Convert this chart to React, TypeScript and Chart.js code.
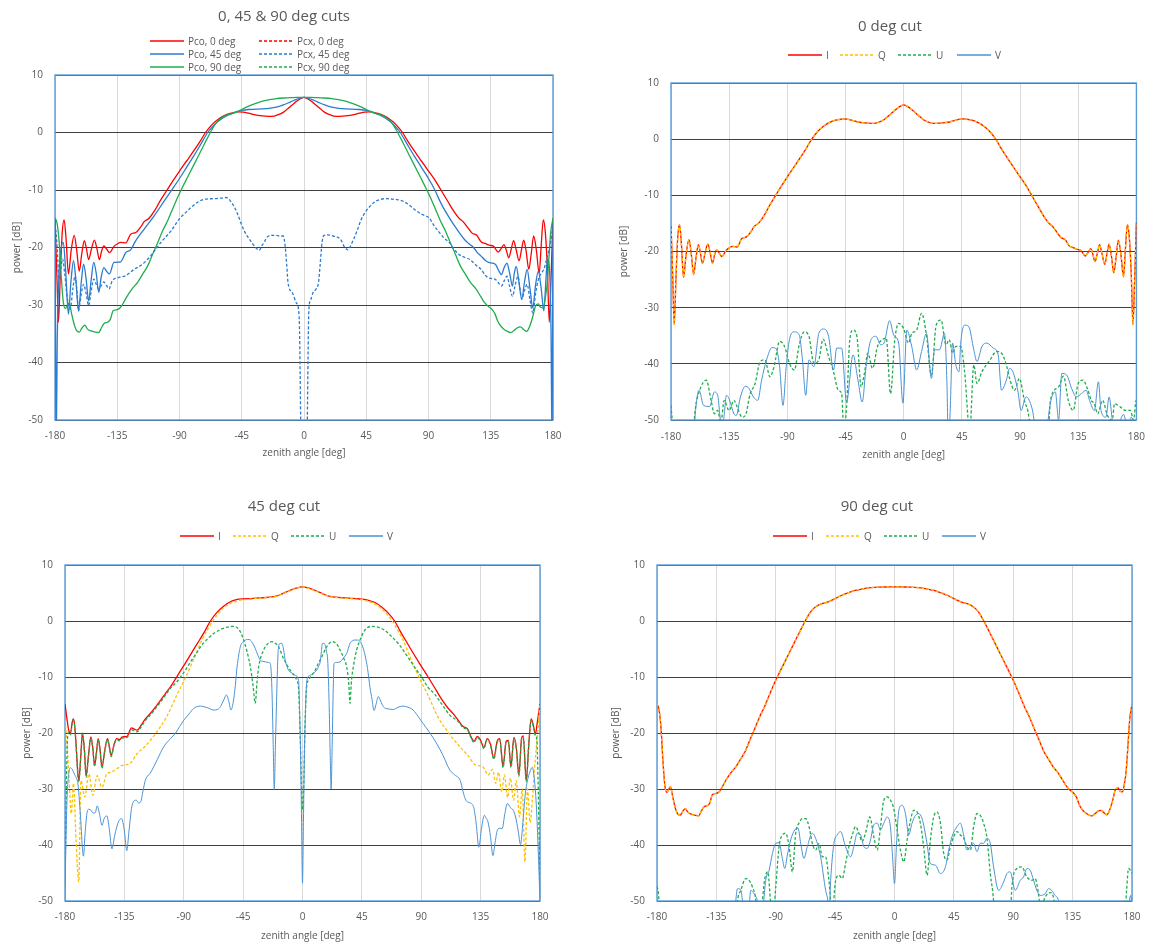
import { useEffect, useRef } from 'react';
import { Chart, registerables } from 'chart.js';

Chart.register(...registerables);
Chart.defaults.font.family = "'Open Sans', sans-serif";

type Pt = [number, number];

// ---------- Tick labels ----------
const angleTicks = [-180, -135, -90, -45, 0, 45, 90, 135, 180];
const powerTicks = [10, 0, -10, -20, -30, -40, -50];

// ---------- Chart 1: 0, 45 & 90 deg cuts ----------
const pco0: Pt[] = [
  [-180, -15.0], [-179.3, -20], [-178.5, -26], [-177.5, -33], [-176.2, -25], [-174.8, -17.5], [-173.4, -15.2],
  [-172, -18.5], [-170.3, -24.6], [-168.3, -20.5], [-166.1, -17.9], [-164.3, -20.5], [-162.5, -24.1], [-160.6, -21],
  [-158.8, -18.8], [-157.2, -20.3], [-155.7, -22.1], [-153.6, -20.2], [-151.5, -18.7], [-149.7, -20.2], [-147.9, -22.1],
  [-146.3, -20.6], [-144.7, -19.7], [-142.6, -20.3], [-140.6, -20.9], [-137.4, -19.8], [-134.5, -19.3], [-132.6, -19.1],
  [-128.9, -19.2], [-125.3, -17.7], [-121.6, -17.4], [-118, -16.4], [-115.5, -15.5], [-112, -14.9], [-108, -13.6],
  [-104, -11.9], [-99, -10], [-95, -8.5], [-90, -6.7], [-85, -5], [-80, -3.3], [-75, -1.5], [-71.2, 0], [-66, 1.5],
  [-62, 2.3], [-58, 2.9], [-54, 3.3], [-50, 3.5], [-47, 3.6], [-44, 3.55], [-40, 3.35], [-36, 3.1], [-32, 2.95],
  [-28, 2.85], [-23, 2.8], [-19, 3.05], [-15, 3.5], [-11, 4.3], [-7, 5.1], [-3.5, 5.75], [0, 6.1],
  [3.5, 5.75], [7, 5.1], [11, 4.3], [15, 3.5], [19, 3.05], [23, 2.8], [28, 2.85], [32, 2.95], [36, 3.1], [40, 3.35],
  [44, 3.55], [47, 3.6], [50, 3.5], [54, 3.3], [58, 2.9], [62, 2.3], [66, 1.5], [71.2, 0], [75, -1.5], [80, -3.3],
  [85, -5], [90, -6.7], [95, -8.4], [99, -10], [104, -12], [108, -13.6], [112, -14.9], [115, -15.5], [118, -16.4],
  [121.5, -17.5], [125, -17.9], [128, -19], [131, -19.3], [134, -19.6], [137, -19.8], [140.5, -20.8], [142.5, -20.2],
  [144.5, -19.5], [146.3, -20.5], [148, -21.8], [149.8, -20.3], [151.5, -18.8], [153.3, -20.3], [155.5, -22.3],
  [157.3, -20.3], [158.8, -18.7], [160.5, -20.5], [162.5, -23.8], [164.3, -21], [166, -18], [168, -20.5], [170, -24.5],
  [171.5, -19.5], [173, -15.2], [174.5, -17.5], [176, -24], [177.3, -33], [178.5, -26], [179.3, -20], [180, -14.9],
];

const pco45: Pt[] = [
  [-180, -15.5], [-179.6, -35], [-179.2, -55], [-178.3, -35], [-177, -24], [-175.5, -20], [-174, -19.1], [-172.3, -24],
  [-170.3, -31.6], [-168.5, -26], [-166.6, -22.3], [-164.8, -26], [-163, -31], [-161, -26], [-159.3, -22.9],
  [-157.5, -25.5], [-155.7, -29.3], [-153.8, -25.5], [-152, -22.6], [-150.2, -24.5], [-148.4, -27.8], [-146.5, -25],
  [-144.7, -23.5], [-142.5, -24.2], [-140.6, -24.6], [-137.4, -22.6], [-132.6, -22.5], [-128.9, -20.9], [-125.3, -20.4],
  [-121.6, -18.8], [-115.5, -16.8], [-108.3, -14.5], [-101, -11.9], [-95.6, -10], [-90, -8], [-85, -6.1], [-80, -4.2],
  [-75, -2.2], [-69.6, 0], [-65, 1.3], [-60, 2.3], [-55, 3.0], [-50, 3.5], [-45, 3.85], [-40, 4.0], [-35, 4.05],
  [-30, 4.1], [-25, 4.2], [-20, 4.4], [-15, 4.8], [-10, 5.3], [-5, 5.8], [0, 6.1],
  [5, 5.8], [10, 5.3], [15, 4.8], [20, 4.4], [25, 4.2], [30, 4.1], [35, 4.05], [40, 4.0], [45, 3.85], [50, 3.5],
  [55, 3.0], [60, 2.3], [65, 1.3], [69.6, 0], [75, -2.2], [80, -4.2], [85, -6.1], [90, -8], [94.6, -10], [98, -11.8],
  [101, -13.2], [105, -14.8], [109, -16.3], [112.5, -17.5], [116, -18.6], [119, -19.3], [122.6, -20], [125, -20.8],
  [128, -21.5], [131, -22.2], [133.5, -22.6], [136, -22.7], [138.6, -23], [140.7, -24], [142.7, -24.7], [144.7, -23.5],
  [146.7, -22.7], [148.7, -24.5], [150.7, -26.7], [152, -24.5], [153.4, -23.3], [155.4, -26], [157.4, -29],
  [159.4, -26], [161.3, -23.8], [163.3, -27], [165.4, -30.5], [167.4, -26.5], [169.4, -24.1], [171.4, -27],
  [173.4, -31], [174.8, -26], [176, -22], [177.5, -24], [178.6, -35], [179.3, -55], [180, -15.5],
];

const pco90: Pt[] = [
  [-180, -14.8], [-178.5, -15.8], [-177, -19], [-175.5, -25], [-174, -29.5], [-172.5, -30.6], [-171, -30],
  [-169.8, -29.6], [-168, -31.5], [-166, -33.5], [-164.5, -34.4], [-162.5, -34.7], [-160.5, -34], [-158.5, -33.5],
  [-156.5, -34.2], [-154, -34.5], [-151, -34.7], [-148.5, -34.8], [-146.5, -34], [-144.5, -33.2], [-142, -33],
  [-140, -32.5], [-138, -31], [-135, -30.8], [-132.6, -30.4], [-130, -29.4], [-127.7, -28.4], [-124, -27.1],
  [-120.4, -26.1], [-116.5, -24.6], [-113, -23.2], [-109.5, -21.2], [-106, -19.3], [-102, -17], [-98.5, -15.3],
  [-95, -13.3], [-91.2, -11.2], [-88, -9.6], [-84, -7.7], [-80, -5.8], [-76, -3.9], [-72, -2], [-67.7, 0], [-64, 1.5],
  [-61, 2.3], [-58, 2.8], [-55, 3.1], [-52, 3.3], [-49, 3.55], [-45, 4.0], [-40, 4.6], [-35, 5.05], [-30, 5.45],
  [-25, 5.7], [-20, 5.9], [-15, 6.0], [-10, 6.05], [-5, 6.1], [0, 6.1],
  [5, 6.1], [10, 6.05], [15, 6.0], [20, 5.9], [25, 5.7], [30, 5.45], [35, 5.05], [40, 4.6], [45, 4.0], [49, 3.55],
  [52, 3.3], [55, 3.1], [58, 2.8], [61, 2.3], [64, 1.5], [67.7, 0], [72, -2], [76, -3.9], [80, -5.8], [84, -7.7],
  [88, -9.6], [91.2, -11.2], [95, -13.3], [98.5, -15.3], [102, -17], [106, -19.3], [109.5, -21.2], [113, -23.2],
  [116.5, -24.6], [120.4, -26.1], [124, -27.1], [127.7, -28.5], [130, -29.4], [133, -30.2], [136, -30.8], [138, -31.5],
  [140, -32.8], [142, -33.6], [144.5, -34.2], [147, -34.6], [149.5, -34.8], [152, -34.4], [154, -34], [156.5, -33.8],
  [158.5, -34.2], [161, -34.6], [163, -33.8], [165.4, -32], [167.3, -30.2], [169.4, -29.8], [171, -30.4],
  [172.8, -30.5], [174.3, -29], [175.6, -26.7], [177, -22], [178.3, -17.5], [180, -14.9],
];

const pcx0: Pt[] = [[-180, -62], [-90, -60], [0, -65], [90, -60], [180, -62]];

const pcx45: Pt[] = [
  [-180, -16], [-179, -18], [-178, -22], [-177.3, -25.5], [-176, -24], [-174.5, -22], [-173, -24.5], [-171, -29],
  [-169, -30.7], [-167, -27], [-165.4, -24.9], [-164, -28], [-163, -31], [-161.3, -28.5], [-159.3, -26.4],
  [-157.5, -28], [-155.7, -30.1], [-153.8, -27.5], [-152, -25.5], [-150, -26.5], [-148.4, -27.2], [-146.5, -26.6],
  [-144.7, -26], [-142.8, -26.6], [-141, -27.2], [-138.6, -25.8], [-133.8, -25.2], [-128.9, -24.9], [-122.8, -23.8],
  [-116.7, -22.9], [-110.7, -21.4], [-103.4, -19.1], [-96.1, -17.1], [-90, -15], [-85, -13.8], [-81.5, -13],
  [-76, -12], [-71.7, -11.6], [-65, -11.5], [-60, -11.4], [-56.3, -11.3], [-52, -12.3], [-48.3, -14], [-45.5, -15.8],
  [-43, -17.2], [-40, -18.4], [-37.6, -19.2], [-35, -20], [-32.3, -20.5], [-30.5, -19.7], [-29, -19.2], [-27.5, -18.5],
  [-25.6, -18], [-23, -17.9], [-20.3, -17.9], [-17.5, -18], [-15, -18], [-13.6, -19.8], [-12.5, -23], [-11.5, -26.2],
  [-8.3, -27.9], [-5.6, -29.6], [-3.5, -32], [-2.9, -39.5], [-2.4, -50], [-1.5, -65], [0, -70],
  [1.5, -65], [2.4, -50], [2.9, -39.5], [3.5, -31], [5, -29], [6.4, -27.9], [8.5, -27.3], [10.4, -26.2], [11.5, -23.5],
  [12.5, -20.5], [13, -19.2], [14.4, -17.9], [17, -17.8], [21, -18], [25, -18.3], [27, -18.8], [29, -19.8],
  [31.8, -20.4], [33.5, -19.8], [35.8, -18.6], [38.5, -17], [41.2, -15.2], [44.5, -13.8], [47.8, -12.8], [51.5, -12],
  [55.8, -11.6], [60, -11.5], [63.9, -11.6], [68, -11.7], [72, -12], [76, -12.6], [79.9, -13.4], [85, -14.2],
  [90.6, -14.9], [94, -16.2], [97.2, -17.2], [101, -18.3], [105.3, -19.2], [108.5, -20.3], [112, -21.2], [116, -21.7],
  [120, -22.1], [124, -23], [128, -23.8], [131, -24.8], [133.3, -25.3], [136, -25.4], [138.6, -25.6], [140.7, -26.2],
  [142.7, -26.7], [144.7, -25.8], [146.7, -25], [148.7, -26.8], [150.7, -28.5], [152.7, -26.5], [154.7, -25],
  [156, -27], [157.4, -29], [159.4, -27.5], [161.3, -26.4], [163.3, -29], [165.4, -31.4], [167.4, -28], [169.4, -25.6],
  [171.4, -24.5], [173.4, -23.8], [175.5, -22], [177.5, -20], [179, -18], [180, -16],
];

const pcx90: Pt[] = [[-180, -63], [-90, -61], [0, -66], [90, -61], [180, -63]];

// ---------- Chart 2: 0 deg cut (I and Q equal Pco at 0 deg) ----------
const u0: Pt[] = [
  [-180, -47.4], [-178.5, -52], [-177, -60], [-164, -60], [-162.5, -52], [-161.6, -48.9], [-157.8, -44.7],
  [-152.7, -42.9], [-149, -46.5], [-146.4, -48.9], [-143.9, -48.3], [-141.4, -50.5], [-138.9, -46.5], [-135.1, -48.3],
  [-131.3, -46.5], [-128.8, -47.7], [-125, -49.5], [-122.5, -49.2], [-118.7, -45.3], [-114.9, -43.5], [-111.1, -39.6],
  [-107.3, -39.3], [-103.5, -42.3], [-100.3, -40.5], [-96, -36], [-92.2, -36.9], [-88.4, -39.9], [-84.6, -41.1],
  [-80.8, -36.6], [-77, -34.3], [-73.3, -35.1], [-69.5, -39.9], [-65.7, -39.3], [-62.4, -35.6], [-58.1, -38.7],
  [-54.3, -41.4], [-50.6, -44.7], [-48, -45.3], [-46.3, -52], [-44.2, -47.7], [-41.7, -35.7], [-39.2, -34],
  [-36.2, -35.1], [-32.9, -44.1], [-30.4, -41.7], [-27.8, -38.1], [-24.1, -40.8], [-20.3, -36.9], [-16.5, -35.7],
  [-13.5, -35.4], [-10.2, -45.3], [-6.9, -35.7], [-3.9, -32.8], [-0.1, -33.7], [3.7, -36.3], [6.2, -34.6], [10, -34],
  [13.8, -31], [17.6, -34.9], [21.4, -42], [25.1, -33.1], [28.9, -32.2], [32.7, -36.6], [35.2, -35.7], [37.8, -38.1],
  [40.3, -36.9], [44.1, -36.9], [47.1, -41.4], [51.1, -52], [54.2, -40.2], [56.7, -43.5], [60.5, -41.4],
  [66.8, -39.3], [71.8, -37.8], [75.6, -38.1], [79.4, -40.2], [81.9, -42.6], [85.7, -44.7], [89.5, -42.6],
  [93.3, -46.5], [97.1, -50], [99, -56], [111, -56], [113.5, -46.5], [119.8, -44.1], [123.6, -42.2], [127.3, -46.5],
  [131.1, -48.3], [134.9, -43.5], [138.7, -42.9], [142.5, -44.7], [145, -46.5], [147.5, -47.1], [150, -48.9],
  [153.8, -46.5], [157.6, -49.2], [161.4, -50], [163, -47.1], [167.7, -47.7], [171.5, -48.3], [175.3, -48.3],
  [177.8, -50], [179.8, -46.5], [180, -46.5],
];

const v0: Pt[] = [
  [-180, -60], [-163, -56], [-161.6, -50], [-158.3, -44.7], [-154.8, -47.4], [-150.2, -47.6], [-146.4, -45],
  [-143.9, -45.6], [-141.4, -50.1], [-139.6, -50.1], [-137.1, -45.6], [-135.1, -46.2], [-131.3, -48.9],
  [-129.5, -49.2], [-126.3, -45.9], [-122.5, -44], [-119.9, -44.3], [-116.2, -45.9], [-112.9, -46.5], [-109.9, -42.9],
  [-106.1, -39.3], [-101.8, -37.1], [-98.5, -37.4], [-96, -40.5], [-93.4, -47.4], [-90.9, -40.5], [-88.4, -35.7],
  [-84.6, -34.3], [-80.8, -34.9], [-78.3, -39.3], [-75.8, -45.6], [-73.3, -39.3], [-69.5, -40.5], [-65.7, -34.6],
  [-61.9, -33.8], [-58.1, -35.1], [-54.3, -41.1], [-51.8, -37.2], [-48, -37.2], [-44.2, -46.8], [-39.2, -38.4],
  [-35.4, -42.9], [-32.1, -46.8], [-29.1, -40.5], [-25.3, -35.7], [-21.5, -35.1], [-17.8, -36.6], [-15.2, -36.3],
  [-10.9, -32.3], [-7.7, -34.9], [-3.9, -36.3], [-0.6, -47], [2.4, -34], [6.2, -36.9], [10, -41.1], [13.8, -37.8],
  [17.6, -34.6], [21.4, -42.6], [23.9, -37.5], [27.7, -37.5], [31.5, -34.6], [33.5, -44], [34.5, -55], [36, -48],
  [37.8, -36.3], [40.3, -40.2], [42.8, -41.4], [44.1, -36.3], [47.1, -33.1], [50.4, -33.4], [54.2, -37.5],
  [56.7, -39.6], [60.5, -36.9], [64.3, -36.3], [69.3, -37.2], [73.1, -38.4], [75.6, -44.7], [79.4, -42.9],
  [81.9, -40.8], [84.4, -41.4], [88.2, -44.7], [90.8, -48.3], [94.5, -45.9], [97.1, -46.5], [100.8, -50],
  [103, -56], [110, -56], [111.7, -50], [117.3, -45], [119.8, -50], [122.3, -41.7], [126.1, -42], [129.9, -44.4],
  [133.6, -45.9], [137.4, -45.3], [141.2, -44.7], [143.7, -46.5], [147.5, -48.3], [150.6, -43.2], [152.6, -48.3],
  [156.4, -49.5], [158.9, -45.9], [161.4, -50.1], [164, -53], [167.7, -50], [170, -49], [173, -51], [176, -49.5],
  [178, -50.5], [180, -52],
];

// ---------- Chart 3: 45 deg cut ----------
const i45: Pt[] = [
  [-180, -14.8], [-178.5, -17.5], [-177.2, -19.5], [-175.8, -20], [-174.5, -18], [-173.6, -17.5], [-172.5, -19],
  [-171.5, -22.5], [-169.6, -28.5], [-168, -24], [-166.8, -20], [-165.3, -23], [-164, -27.7], [-162.2, -24],
  [-160.4, -20.7], [-159, -22.5], [-157.6, -25.8], [-156.2, -23.5], [-154.8, -21], [-153.4, -23], [-152, -26.1],
  [-149.8, -23], [-147.8, -21], [-146.3, -22.5], [-145, -24], [-142.8, -22], [-140.8, -21], [-138.7, -21.2],
  [-136.6, -20.7], [-133, -20.6], [-129.6, -19.1], [-127.5, -19.3], [-125.4, -19.5], [-122, -18.5], [-119.8, -17.7],
  [-114.2, -16.2], [-108.6, -14.5], [-104, -13], [-100.2, -11.8], [-94.6, -9.7], [-89, -7.6], [-82, -4.9],
  [-77.8, -3.3], [-74, -1.8], [-69.8, 0], [-65, 1.5], [-60, 2.6], [-55, 3.4], [-50, 3.8], [-45, 3.95], [-40, 4.0],
  [-35, 4.1], [-30, 4.15], [-25, 4.25], [-20, 4.45], [-15, 4.9], [-10, 5.4], [-5, 5.85], [0, 6.1],
  [5, 5.85], [10, 5.4], [15, 4.9], [20, 4.45], [25, 4.25], [30, 4.15], [35, 4.1], [40, 4.0], [45, 3.9], [50, 3.7],
  [55, 3.3], [60, 2.5], [65, 1.4], [69.8, 0], [74, -1.8], [78, -3.4], [82, -5], [89, -7.7], [95.2, -10],
  [101.4, -12.4], [105.5, -14], [109.8, -15.4], [114, -16.5], [118.2, -17.8], [121.5, -18.8], [125.2, -19.3],
  [128, -20.8], [130, -21.5], [132.5, -20.6], [135, -21.3], [137.5, -22.6], [140, -21], [142.5, -22], [145, -24.5],
  [147.5, -21.5], [149.5, -21], [152, -26], [154.3, -21.5], [156, -21.3], [158, -26], [160.2, -20.8], [162, -22.5],
  [164, -27.5], [166, -21], [167.3, -20.5], [169.6, -28.5], [171.5, -22], [173.3, -17.5], [174.8, -18.5],
  [176.5, -20.2], [178, -18], [180, -14.8],
];

const q45: Pt[] = [
  [-180, -17.7], [-178.6, -21.3], [-177, -28], [-175.2, -34.4], [-173.6, -29], [-171.6, -39.2], [-169.6, -46.6],
  [-167.9, -28.5], [-165, -31.4], [-161.8, -27.3], [-159, -31.1], [-155.6, -27.6], [-152, -29.7], [-148.3, -27.3],
  [-145, -27], [-140.8, -26.4], [-136.6, -25.8], [-131, -25.5], [-125.4, -23.7], [-119.8, -22.5], [-111.4, -20.1],
  [-103, -17.1], [-94.6, -12.9], [-89, -10.3], [-80.6, -5.8], [-76.4, -3.45], [-72, -1.5], [-68, 0], [-64, 1.3],
  [-60, 2.3], [-55, 3.1], [-50, 3.55], [-45, 3.8], [-40, 3.9], [-35, 4.05], [-30, 4.1], [-25, 4.2], [-20, 4.4],
  [-15, 4.85], [-10, 5.35], [-5, 5.8], [0, 6.1],
  [5, 5.8], [10, 5.35], [15, 4.85], [20, 4.4], [25, 4.2], [30, 4.1], [35, 4.05], [40, 3.9], [45, 3.8], [50, 3.5],
  [55, 3.0], [60, 2.2], [64, 1.2], [68, 0], [72, -1.6], [76.4, -3.5], [80.6, -5.9], [89, -10.4], [94.6, -13],
  [103, -17.3], [111.4, -20.2], [119.8, -22.6], [125.4, -24], [131, -25.7], [136.6, -26], [140.8, -27.5], [144, -26.5],
  [146.5, -29], [148.5, -27], [151, -30.5], [153, -27.5], [155.5, -31.5], [157.5, -28], [160, -32], [162, -28.5],
  [164.5, -35], [166.5, -30], [168.6, -43], [170.5, -30], [172.5, -36], [174.2, -32], [176, -26], [178.4, -19.5],
  [180, -14.8],
];

const u45: Pt[] = [
  [-180, -47], [-179.3, -35], [-178.3, -22], [-177.2, -19.8], [-175.8, -20.3], [-174.5, -18.2], [-173.6, -17.7],
  [-172.5, -19.2], [-171.5, -22.7], [-169.6, -28.8], [-168, -24.2], [-166.8, -20.2], [-165.3, -23.2], [-164, -27.9],
  [-162.2, -24.2], [-160.4, -20.9], [-159, -22.7], [-157.6, -26], [-156.2, -23.7], [-154.8, -21.2], [-153.4, -23.2],
  [-152, -26.3], [-149.8, -23.2], [-147.8, -21.2], [-146.3, -22.7], [-145, -24.2], [-142.8, -22.2], [-140.8, -21.2],
  [-138.7, -21.4], [-136.6, -20.9], [-133, -20.8], [-129.6, -19.4], [-127.5, -19.6], [-125.4, -19.8], [-122, -18.8],
  [-119.8, -18], [-115, -16.7], [-108, -14.6], [-100, -12], [-95, -10.8], [-92.4, -10], [-88, -8.5], [-84, -7],
  [-80, -5.6], [-77.3, -4.6], [-72, -3.2], [-67, -2.2], [-62, -1.5], [-57, -1.1], [-52, -0.95], [-49, -1.3],
  [-46.5, -2.2], [-44.6, -3.4], [-42, -5.5], [-39.5, -8.2], [-37.5, -11.5], [-35.8, -14.7], [-34.5, -11],
  [-33.2, -8.2], [-29.5, -5.2], [-26, -4], [-23.2, -3.7], [-20.5, -4], [-18.1, -4.6], [-14.4, -6.7], [-9.3, -8.8],
  [-4.3, -10.6], [-3, -12], [-1.8, -20], [-0.8, -29], [0, -33.7],
  [1, -29], [1.8, -20], [3, -12], [4.5, -10.6], [9.6, -8.8], [12, -7.6], [14.6, -6.4], [18.4, -4.6], [22.2, -3.7],
  [25.5, -4], [28.5, -5.2], [31.5, -6.8], [33.5, -8.2], [35, -11], [36, -14.7], [37, -11], [38.5, -8.2], [41, -5.2],
  [43.6, -3.4], [47, -1.7], [52.4, -0.95], [57, -1.1], [62, -1.6], [67.6, -2.8], [73.2, -4.2], [78, -5.8], [82, -7.2],
  [86, -8.6], [90.2, -10], [95, -11.8], [100, -13], [106, -15], [111.6, -16.8], [118.2, -18], [121.5, -19],
  [125.2, -19.5], [128, -21], [130, -21.7], [132.5, -20.8], [135, -21.5], [137.5, -22.8], [140, -21.2], [142.5, -22.2],
  [145, -24.7], [147.5, -21.7], [149.5, -21.2], [152, -26.2], [154.3, -21.7], [156, -21.5], [158, -26.2],
  [160.2, -21], [162, -22.7], [164, -27.7], [166, -21.2], [167.3, -20.7], [169.6, -28.7], [171.5, -22.2],
  [173.3, -17.7], [174.8, -18.7], [176.5, -20.5], [177.5, -21], [178.5, -28], [179.3, -38], [180, -47],
];

const v45: Pt[] = [
  [-180, -50], [-179.5, -42], [-178.5, -32], [-177, -27], [-175.8, -26.2], [-174.5, -26.5], [-173, -27.3],
  [-171.5, -28], [-170.2, -29.1], [-168.5, -34], [-166, -42], [-164.8, -38], [-163.2, -34.1], [-161.8, -33.6],
  [-160.4, -33.8], [-158.5, -34.3], [-157, -34.2], [-155.6, -33], [-153.8, -34.5], [-152, -36.5], [-150.2, -35.2],
  [-148.3, -34.8], [-146.5, -37], [-144.4, -40.7], [-142.5, -38.5], [-140.8, -36.8], [-139, -35.6], [-137.1, -35.3],
  [-135, -37.5], [-133.2, -41], [-131.5, -37.5], [-129.6, -33.5], [-128, -32.2], [-126, -32], [-124, -32.5],
  [-122.6, -32.3], [-121, -30.5], [-119.2, -28.5], [-117.5, -27.7], [-115.5, -27.2], [-110, -24.7], [-105, -22.4],
  [-100, -21], [-96.2, -20], [-93, -18.8], [-89.9, -17.7], [-86, -16.6], [-82.4, -15.6], [-77.3, -15.2], [-72, -15.5],
  [-67.3, -15.9], [-64.5, -15.8], [-62.2, -15.3], [-59.5, -14], [-57.7, -13.2], [-56, -14.2], [-54.2, -15.9],
  [-52.5, -14.5], [-50.9, -11.5], [-49.6, -8.2], [-47.1, -4.6], [-45, -3.7], [-43.3, -3.4], [-41.5, -3.3],
  [-39.5, -3.4], [-37.5, -4.1], [-35.8, -4.9], [-34, -6], [-32, -7], [-30, -7.2], [-28.2, -7.3], [-26, -7.4],
  [-24.4, -7.6], [-23.2, -12], [-22.2, -22], [-21.4, -30.1], [-20.5, -22], [-19.4, -12], [-18.6, -6], [-18.1, -4.6],
  [-16.8, -4.0], [-15.6, -4], [-14.3, -5.2], [-13.1, -7], [-11.8, -8.1], [-10.6, -8.8], [-8, -9.3], [-5.5, -9.7],
  [-3, -10.6], [-2.2, -16], [-1.5, -23], [-0.7, -36], [0, -46.8],
  [0.7, -36], [1.5, -23], [2.4, -15], [3.3, -10.6], [5.8, -9.7], [8.2, -9.3], [10.8, -8.8], [12.2, -8.1],
  [13.4, -7.3], [14.3, -5.5], [15.1, -4], [16.2, -4], [17.1, -4.3], [18.2, -5.5], [19.1, -7], [20.1, -14], [21, -24],
  [21.7, -30], [22.5, -22], [23.3, -12], [23.9, -7.6], [26, -7.4], [28.5, -7.3], [31, -6.6], [33.5, -5.8], [36, -4],
  [38, -3.5], [39.8, -3.4], [41.7, -3.4], [43.6, -3.7], [45.5, -4.5], [47.4, -6.1], [49.3, -8.5], [51.1, -11.8],
  [52.7, -14], [54.2, -16], [55.8, -14.8], [57.4, -13.5], [59.3, -14.3], [61.2, -15.3], [65, -15.7], [68.8, -15.8],
  [72.5, -15.4], [76.3, -15.2], [80, -15.4], [83.9, -15.9], [87.5, -17], [91.4, -18.3], [96, -19.8], [101.5, -21.8],
  [106.5, -24], [111.6, -26.6], [115.5, -27.5], [119.6, -28.5], [121.7, -30.5], [123.8, -32], [126, -32.4],
  [128, -32.6], [130, -33.5], [131.8, -36.5], [133.6, -40.4], [135.7, -37], [137.8, -34.7], [139.2, -35.2],
  [140.6, -35.9], [142.5, -38.5], [144.3, -41.9], [146, -39.5], [147.6, -37.4], [149.5, -37], [151.3, -37.1],
  [153.3, -34.5], [155.2, -32.6], [157.5, -33.3], [159.7, -33.8], [161.5, -35], [163.5, -37.5], [165.2, -39.9],
  [167, -36], [168.8, -31], [170.5, -28.5], [172.3, -27], [174.2, -26.1], [175.6, -28], [177, -32], [178.5, -40],
  [180, -50],
];

// ---------- Chart 4: 90 deg cut (I and Q equal Pco at 90 deg) ----------
const u90: Pt[] = [
  [-180, -47.4], [-179, -48.5], [-178, -52], [-176, -60], [-123, -60], [-121, -56], [-119, -50], [-116.5, -48.1],
  [-112.7, -46], [-110.2, -46.3], [-107.7, -47.5], [-105.1, -50], [-104, -54], [-101, -52], [-98.5, -46.3],
  [-96, -44.8], [-94, -50], [-92.5, -54], [-90, -47.5], [-87.5, -40.3], [-85, -38.2], [-82.4, -37.9], [-79.9, -40.3],
  [-77.4, -44.8], [-74.9, -37.9], [-72.4, -36.1], [-69.8, -35.3], [-67.3, -35.3], [-64.8, -36.7], [-62.3, -39.7],
  [-59.8, -40.9], [-57.2, -39.7], [-54.7, -42.1], [-52.2, -42.1], [-49.7, -46.3], [-47.2, -52], [-44.6, -46.3],
  [-42.1, -45.4], [-39.6, -46], [-37.1, -43.3], [-34.6, -40.3], [-32, -38.2], [-29.5, -36.7], [-27, -37.9],
  [-24.5, -39.4], [-22, -37.9], [-18.7, -35], [-15.7, -38.5], [-13.1, -40.9], [-10.6, -36.7], [-8.1, -32],
  [-5.6, -31.4], [-3.1, -32], [-0.6, -33.5], [2, -37.3], [4.5, -40.9], [7, -43], [9.6, -39.1], [12.1, -35.6],
  [14.6, -33.8], [17.1, -34.1], [19.6, -36.1], [22.1, -40.3], [24.7, -45.4], [27.2, -39.1], [29.7, -35],
  [32.2, -34.1], [34.8, -36.1], [37.3, -41.5], [39.8, -42.7], [42.3, -40.3], [44.9, -38.5], [47.4, -37.6],
  [49.9, -38.2], [52.4, -38.8], [54.9, -40.3], [57.5, -40.9], [60, -36.7], [62.5, -34.4], [65, -34.7], [67.5, -36.1],
  [70.1, -38.8], [72.6, -45.1], [75.1, -50], [76.5, -56], [87, -56], [89, -47.5], [92.8, -44.2], [96.5, -43.9],
  [100.3, -45.7], [104.1, -46.3], [106.6, -46], [109.1, -48.7], [111, -52], [113, -50], [115, -49], [118, -48.5],
  [121, -50], [123, -56], [173, -58], [175.9, -48.1], [177.4, -44.2], [180, -45],
];

const v90: Pt[] = [
  [-180, -60], [-122, -55], [-120.3, -50], [-119, -47.8], [-116.5, -48], [-115.2, -50], [-113, -55], [-110.5, -52],
  [-108.9, -48.1], [-106.4, -48.7], [-103.9, -50], [-101, -54], [-99.5, -51], [-97.6, -46.3], [-95, -44.5],
  [-92.5, -41.5], [-90, -39.7], [-87.5, -39.6], [-85, -42.4], [-83.2, -44.2], [-81.2, -41.8], [-78.7, -39.1],
  [-75.6, -37.3], [-73.1, -37], [-71.1, -39.7], [-68.6, -42.4], [-66.1, -40.3], [-62.3, -37.9], [-59.8, -38.8],
  [-56, -42.1], [-52.2, -48.1], [-50.4, -50], [-49.5, -52], [-48.4, -46.3], [-45.9, -39.7], [-43.4, -38.2],
  [-40.9, -37.6], [-37.1, -40.3], [-33.3, -42.1], [-30.8, -40.3], [-28.3, -37.9], [-25.7, -38.2], [-23.2, -40.3],
  [-20.7, -40.6], [-18.2, -39.1], [-15.7, -36.4], [-13.1, -36.1], [-10.6, -37.3], [-8.1, -36.1], [-5.6, -35],
  [-3.1, -36.7], [-1.5, -42], [0, -46.9], [1.5, -40], [3.3, -33.8], [5.8, -32.9], [8.3, -34.4], [10.8, -38.2],
  [13.3, -36.1], [15.9, -34.7], [18.4, -34.4], [20.9, -35.3], [24.2, -39.1], [27.2, -43.3], [31, -43.6],
  [34.8, -45.1], [38.6, -43.9], [41.1, -40.9], [43.6, -38.5], [47.4, -36.7], [49.9, -36.1], [52.4, -38.2],
  [54.9, -40.9], [57.5, -40.3], [60, -39.7], [62.5, -41.2], [65, -39.7], [67.5, -39.7], [70.1, -38.8], [72.6, -39.7],
  [75.1, -43.9], [78.9, -48.1], [82.7, -46.6], [85.2, -45.1], [87.7, -44.8], [91.5, -48.1], [95.3, -46.3],
  [97.8, -45.7], [100.3, -44.2], [102.8, -44.5], [105.4, -46.3], [107.9, -48.1], [110.4, -49], [114.2, -48.7],
  [116.7, -47.8], [119.2, -48.1], [121.7, -49], [124.3, -50], [126, -55], [176, -55], [178, -50], [179, -49],
  [180, -51],
];

// ---------- Styles ----------
const RED = '#ff0000';
const YELLOW = '#ffc000';
const GREEN = '#1fad4e';
const BLUE1 = '#2b7bd0';
const BLUE_V = '#4b93d4';
const TEXT = '#595959';
const DASH = [3, 2];

interface Series { label: string; data: Pt[]; color: string; dash?: boolean; width: number; }
interface LegendItem { label: string; color: string; dash?: boolean; x: number; y: number; }
interface PanelCfg {
  canvas: { left: number; top: number; width: number; height: number };
  plot: { left: number; top: number; right: number; bottom: number };
  yTitleX: number; xTitleY: number; xTickPad: number;
  title: { text: string; x: number; y: number };
  series: Series[];
  legend: LegendItem[];
}

const ICOL = { I: RED, Q: YELLOW, U: GREEN, V: BLUE_V };

function stokesLegend(x: number[], y: number): LegendItem[] {
  return [
    { label: 'I', color: ICOL.I, x: x[0], y },
    { label: 'Q', color: ICOL.Q, dash: true, x: x[1], y },
    { label: 'U', color: ICOL.U, dash: true, x: x[2], y },
    { label: 'V', color: ICOL.V, x: x[3], y },
  ];
}

const panels: PanelCfg[] = [
  {
    canvas: { left: 0, top: 0, width: 580, height: 470 },
    plot: { left: 55, top: 75, right: 553, bottom: 420 },
    yTitleX: 17, xTitleY: 453, xTickPad: 10,
    title: { text: '0, 45 & 90 deg cuts', x: 284, y: 15 },
    series: [
      { label: 'Pco, 0 deg', data: pco0, color: RED, width: 1.3 },
      { label: 'Pco, 45 deg', data: pco45, color: BLUE1, width: 1.3 },
      { label: 'Pco, 90 deg', data: pco90, color: GREEN, width: 1.3 },
      { label: 'Pcx, 0 deg', data: pcx0, color: RED, dash: true, width: 1.3 },
      { label: 'Pcx, 45 deg', data: pcx45, color: BLUE1, dash: true, width: 1.3 },
      { label: 'Pcx, 90 deg', data: pcx90, color: GREEN, dash: true, width: 1.3 },
    ],
    legend: [
      { label: 'Pco, 0 deg', color: RED, x: 150, y: 40.5 },
      { label: 'Pcx, 0 deg', color: RED, dash: true, x: 259, y: 40.5 },
      { label: 'Pco, 45 deg', color: BLUE1, x: 150, y: 53.7 },
      { label: 'Pcx, 45 deg', color: BLUE1, dash: true, x: 259, y: 53.7 },
      { label: 'Pco, 90 deg', color: GREEN, x: 150, y: 67 },
      { label: 'Pcx, 90 deg', color: GREEN, dash: true, x: 259, y: 67 },
    ],
  },
  {
    canvas: { left: 580, top: 0, width: 576, height: 470 },
    plot: { left: 671, top: 83, right: 1147, bottom: 420 },
    yTitleX: 624, xTitleY: 455, xTickPad: 11,
    title: { text: '0 deg cut', x: 890, y: 25 },
    series: [
      { label: 'I', data: pco0, color: ICOL.I, width: 1.3 },
      { label: 'Q', data: pco0, color: ICOL.Q, dash: true, width: 1.3 },
      { label: 'U', data: u0, color: ICOL.U, dash: true, width: 1.3 },
      { label: 'V', data: v0, color: ICOL.V, width: 1 },
    ],
    legend: stokesLegend([788, 840, 898, 957], 54.6),
  },
  {
    canvas: { left: 0, top: 480, width: 580, height: 467 },
    plot: { left: 65, top: 565, right: 540, bottom: 901 },
    yTitleX: 27, xTitleY: 936, xTickPad: 10,
    title: { text: '45 deg cut', x: 284, y: 505 },
    series: [
      { label: 'I', data: i45, color: ICOL.I, width: 1.3 },
      { label: 'Q', data: q45, color: ICOL.Q, dash: true, width: 1.3 },
      { label: 'U', data: u45, color: ICOL.U, dash: true, width: 1.3 },
      { label: 'V', data: v45, color: ICOL.V, width: 1 },
    ],
    legend: stokesLegend([180, 233, 291, 349], 535.6),
  },
  {
    canvas: { left: 580, top: 480, width: 576, height: 467 },
    plot: { left: 657, top: 565, right: 1132, bottom: 901 },
    yTitleX: 616, xTitleY: 936, xTickPad: 10,
    title: { text: '90 deg cut', x: 877, y: 505 },
    series: [
      { label: 'I', data: pco90, color: ICOL.I, width: 1.3 },
      { label: 'Q', data: pco90, color: ICOL.Q, dash: true, width: 1.3 },
      { label: 'U', data: u90, color: ICOL.U, dash: true, width: 1.3 },
      { label: 'V', data: v90, color: ICOL.V, width: 1 },
    ],
    legend: stokesLegend([773, 826, 884, 942], 536),
  },
];

const framePlugin = {
  id: 'plotFrame',
  beforeDatasetsDraw(chart: any) {
    const { ctx, chartArea: a } = chart;
    ctx.save();
    ctx.strokeStyle = '#5b9bd5';
    ctx.lineWidth = 1.4;
    ctx.strokeRect(a.left, a.top, a.right - a.left, a.bottom - a.top);
    ctx.restore();
  },
};

function Panel({ cfg }: { cfg: PanelCfg }) {
  const ref = useRef<HTMLCanvasElement | null>(null);
  useEffect(() => {
    const c = cfg.canvas;
    const p = cfg.plot;
    const n = cfg.series.length;
    const chart = new Chart(ref.current as HTMLCanvasElement, {
      type: 'line',
      data: {
        datasets: cfg.series.map((s, i) => ({
          label: s.label,
          data: s.data.map(([x, y]) => ({ x, y })),
          borderColor: s.color,
          backgroundColor: s.color,
          borderWidth: s.width,
          borderDash: s.dash ? DASH : [],
          pointRadius: 0,
          pointHoverRadius: 0,
          fill: false,
          cubicInterpolationMode: 'monotone' as const,
          order: n - i,
        })),
      },
      options: {
        animation: false,
        responsive: false,
        devicePixelRatio: 1,
        events: [],
        layout: {
          padding: { left: 0, top: p.top - c.top, right: c.left + c.width - p.right, bottom: 0 },
        },
        plugins: { legend: { display: false }, title: { display: false }, tooltip: { enabled: false } },
        scales: {
          x: {
            type: 'linear',
            min: -180,
            max: 180,
            afterFit: (s: any) => { s.height = c.top + c.height - p.bottom; },
            afterBuildTicks: (s: any) => { s.ticks = angleTicks.map((v) => ({ value: v })); },
            ticks: { color: TEXT, font: { size: 10 }, padding: cfg.xTickPad, maxRotation: 0, autoSkip: false },
            grid: { color: '#d9d9d9', lineWidth: 1, drawTicks: false },
            border: { display: false },
            title: {
              display: true, text: 'zenith angle [deg]', color: TEXT, font: { size: 10 },
              padding: { top: 0, bottom: c.top + c.height - cfg.xTitleY - 6 },
            },
          },
          y: {
            type: 'linear',
            min: -50,
            max: 10,
            afterFit: (s: any) => { s.width = p.left - c.left; },
            afterBuildTicks: (s: any) => { s.ticks = powerTicks.slice().reverse().map((v) => ({ value: v })); },
            ticks: { color: TEXT, font: { size: 10 }, padding: 12 },
            grid: { color: '#404040', lineWidth: 1, drawTicks: false },
            border: { display: false },
            title: {
              display: true, text: 'power [dB]', color: TEXT, font: { size: 10 },
              padding: { top: cfg.yTitleX - c.left - 6, bottom: 0 },
            },
          },
        },
      } as any,
      plugins: [framePlugin],
    });
    return () => chart.destroy();
  }, [cfg]);
  const c = cfg.canvas;
  return (
    <canvas
      ref={ref}
      width={c.width}
      height={c.height}
      style={{ position: 'absolute', left: c.left, top: c.top, width: c.width, height: c.height }}
    />
  );
}

function Legend({ items }: { items: LegendItem[] }) {
  return (
    <>
      {items.map((it) => (
        <div key={it.label + it.x + it.y}>
          <svg
            width={34}
            height={4}
            style={{ position: 'absolute', left: it.x, top: it.y - 2, overflow: 'visible' }}
          >
            <line
              x1={0} y1={2} x2={34} y2={2}
              stroke={it.color}
              strokeWidth={1.5}
              strokeDasharray={it.dash ? '3 2' : undefined}
            />
          </svg>
          <div
            style={{
              position: 'absolute', left: it.x + 38, top: it.y, transform: 'translateY(-50%)',
              fontSize: 10, lineHeight: '12px', color: TEXT, whiteSpace: 'nowrap',
            }}
          >
            {it.label}
          </div>
        </div>
      ))}
    </>
  );
}

export default function App() {
  return (
    <div
      style={{
        position: 'absolute', left: 0, top: 0, width: 1156, height: 947, background: '#ffffff',
        fontFamily: "'Open Sans', sans-serif", overflow: 'hidden',
      }}
    >
      {panels.map((p, i) => (
        <div key={i}>
          <Panel cfg={p} />
          <div
            style={{
              position: 'absolute', left: p.title.x, top: p.title.y, transform: 'translate(-50%, -50%)',
              fontSize: 15, lineHeight: '18px', color: TEXT, whiteSpace: 'nowrap',
            }}
          >
            {p.title.text}
          </div>
          <Legend items={p.legend} />
        </div>
      ))}
    </div>
  );
}
